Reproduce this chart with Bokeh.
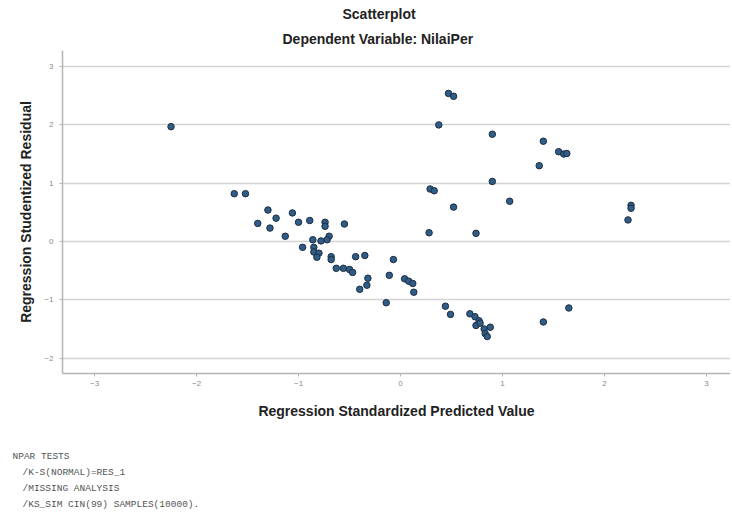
from bokeh.plotting import figure
from bokeh.models import Range1d, FixedTicker, ColumnDataSource, Title
from bokeh.embed import file_html
from bokeh.resources import INLINE

# ---- data ----
pred = [-2.25, -1.63, -1.52, -1.30, -1.22, -1.40, -1.28, -1.06, -1.00, -0.89,
        -0.74, -0.74, -0.55, -1.13, -0.96, -0.86, -0.78, -0.70, -0.72, -0.85,
        -0.85, -0.80, -0.82, -0.68, -0.68, -0.63, -0.56, -0.50, -0.47, -0.44,
        -0.35, -0.32, -0.33, -0.40, -0.07, -0.11, 0.04, 0.08, 0.12, 0.13,
        -0.14, 0.44, 0.49, 0.68, 0.73, 0.77, 0.74, 0.78, 0.82, 0.88,
        0.83, 0.85, 1.40, 1.65, 0.375, 0.29, 0.33, 0.28, 0.47, 0.52,
        0.90, 1.40, 1.55, 1.60, 1.63, 1.36, 0.90, 1.07, 0.52, 2.26,
        2.26, 2.23, 0.74]
resid = [1.97, 0.82, 0.82, 0.54, 0.40, 0.31, 0.23, 0.49, 0.33, 0.36,
         0.33, 0.26, 0.30, 0.09, -0.10, 0.03, 0.01, 0.09, 0.03, -0.10,
         -0.18, -0.20, -0.27, -0.26, -0.31, -0.46, -0.46, -0.48, -0.53, -0.26,
         -0.24, -0.63, -0.75, -0.82, -0.31, -0.58, -0.64, -0.68, -0.72, -0.87,
         -1.05, -1.11, -1.25, -1.24, -1.29, -1.36, -1.44, -1.40, -1.50, -1.47,
         -1.58, -1.63, -1.38, -1.14, 2.00, 0.90, 0.87, 0.15, 2.54, 2.49,
         1.84, 1.72, 1.54, 1.50, 1.51, 1.30, 1.03, 0.69, 0.59, 0.62,
         0.57, 0.37, 0.14]
x_ticks = [-3, -2, -1, 0, 1, 2, 3]
y_ticks = [-2, -1, 0, 1, 2, 3]
title_text = "Scatterplot"
subtitle_text = "Dependent Variable: NilaiPer"
x_label = "Regression Standardized Predicted Value"
y_label = "Regression Studentized Residual"
syntax_lines = ["NPAR TESTS", "/K-S(NORMAL)=RES_1", "/MISSING ANALYSIS",
                "/KS_SIM CIN(99) SAMPLES(10000)."]
syntax_indent = [0, 1, 1, 1]

FONT = "Liberation Sans"
MONO = "Liberation Mono"

p = figure(width=730, height=512, output_backend="svg", toolbar_location=None,
           x_range=Range1d(-3.314, 3.235), y_range=Range1d(-2.264, 3.276),
           min_border_left=62, min_border_right=0, min_border_top=50,
           min_border_bottom=139, background_fill_color="white",
           border_fill_color="white")
p.outline_line_color = None
p.xgrid.grid_line_color = None
p.ygrid.grid_line_color = "#d4d4d4"
p.ygrid.grid_line_width = 1.5

for ax, ticks in ((p.xaxis[0], x_ticks), (p.yaxis[0], y_ticks)):
    ax.ticker = FixedTicker(ticks=ticks)
    ax.axis_line_color = "#b4b4b4"
    ax.axis_line_width = 1.5
    ax.major_tick_line_color = "#b4b4b4"
    ax.major_tick_out = 3
    ax.major_tick_in = 0
    ax.minor_tick_line_color = None
    ax.major_label_text_font = FONT
    ax.major_label_text_font_size = "8px"
    ax.major_label_text_color = "#8a8a8a"
    ax.axis_label_text_font = FONT
    ax.axis_label_text_font_size = "14px"
    ax.axis_label_text_font_style = "bold"
    ax.axis_label_text_color = "#222222"

p.xaxis.axis_label = x_label
p.yaxis.axis_label = y_label
p.xaxis.major_label_standoff = 4
p.xaxis.axis_label_standoff = 14
p.yaxis.major_label_standoff = 6
p.yaxis.axis_label_standoff = 7

src = ColumnDataSource(data=dict(x=pred, y=resid))
p.scatter("x", "y", source=src, size=6.5, fill_color="#2f5d88",
          line_color="#1c2d40", line_width=1)

# titles (left aligned with an offset so that they centre near x=378)
p.add_layout(Title(text=subtitle_text, align="left", offset=220,
                   text_font=FONT, text_font_size="14px",
                   text_font_style="bold", text_color="#222222",
                   standoff=7), "above")
p.add_layout(Title(text=title_text, align="left", offset=280,
                   vertical_align="top",
                   text_font=FONT, text_font_size="14px",
                   text_font_style="bold", text_color="#222222",
                   standoff=4), "above")

# syntax text under the chart (a blank spacer first)
p.add_layout(Title(text=" ", text_font=MONO, text_font_size="9.5px",
                   standoff=13), "below")
for i, (line, ind) in enumerate(zip(syntax_lines, syntax_indent)):
    p.add_layout(Title(text=line, align="left", offset=-50 + 10 * ind,
                       text_font=MONO, text_font_size="9.5px",
                       text_font_style="normal", text_color="#555555",
                       standoff=3), "below")

open("out.html", "w").write(file_html(p, INLINE))
